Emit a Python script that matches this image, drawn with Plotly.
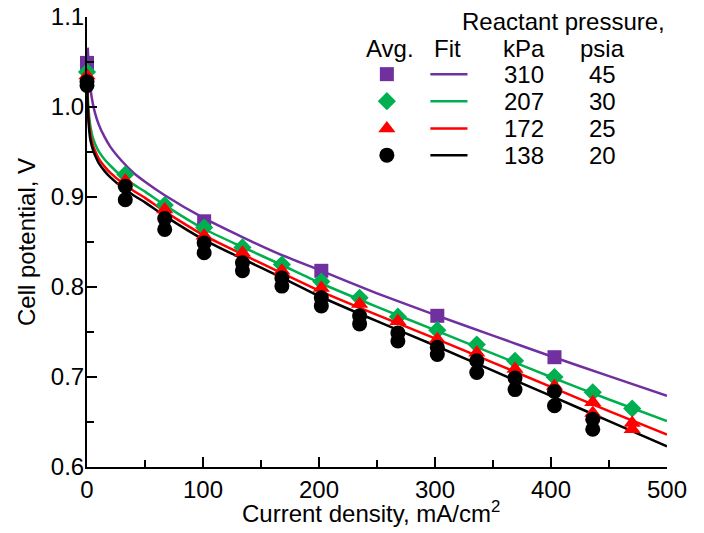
import plotly.graph_objects as go

# ---------------- data ----------------
# Averaged measurements (current density mA/cm2, cell potential V)
x_310 = [0, 101, 202, 302, 403]
y_310 = [1.049, 0.873, 0.818, 0.768, 0.722]

x_207 = [0, 33, 67, 101, 134, 168, 202, 235, 268, 302, 336, 369, 403, 436, 470]
y_207 = [1.039, 0.925, 0.891, 0.866, 0.844, 0.825, 0.806, 0.788, 0.767, 0.752, 0.736, 0.718, 0.700, 0.683, 0.665]

x_172 = [0, 33, 67, 101, 134, 168, 202, 235, 268, 302, 336, 369, 403, 436, 436, 470, 470]
y_172 = [1.035, 0.918, 0.886, 0.857, 0.838, 0.818, 0.799, 0.781, 0.762, 0.742, 0.727, 0.709, 0.690, 0.672, 0.660, 0.649, 0.642]

x_138 = [0, 0, 33, 33, 67, 67, 101, 101, 134, 134, 168, 168, 202, 202, 235, 235,
         268, 268, 302, 302, 336, 336, 369, 369, 403, 403, 436, 436]
y_138 = [1.028, 1.024, 0.912, 0.897, 0.876, 0.864, 0.849, 0.838, 0.827, 0.818, 0.810, 0.801,
         0.788, 0.779, 0.768, 0.759, 0.749, 0.740, 0.733, 0.725, 0.718, 0.705, 0.699, 0.686,
         0.684, 0.668, 0.653, 0.642]

# Fit curves
xf_310 = [0.7, 1, 2, 3, 5, 7, 10, 15, 20, 30, 40, 50, 67, 100, 133, 167, 200, 250, 300, 350, 400, 450, 500]
yf_310 = [1.066, 1.055, 1.034, 1.020, 1.004, 0.993, 0.981, 0.967, 0.956, 0.940, 0.927, 0.917, 0.902,
          0.877, 0.856, 0.836, 0.819, 0.793, 0.769, 0.746, 0.723, 0.701, 0.679]

xf = [0.2, 0.5, 1, 2, 3, 5, 7, 10, 15, 20, 30, 40, 50, 67, 100, 133, 167, 200, 250, 300, 350, 400, 450, 500]
yf_207 = [1.040, 1.018, 1.004, 0.988, 0.978, 0.966, 0.959, 0.951, 0.942, 0.935, 0.923, 0.914, 0.906, 0.891,
          0.865, 0.845, 0.825, 0.805, 0.778, 0.752, 0.726, 0.700, 0.675, 0.651]
yf_172 = [1.035, 1.010, 0.996, 0.979, 0.969, 0.958, 0.951, 0.943, 0.934, 0.927, 0.916, 0.907, 0.899, 0.884,
          0.858, 0.837, 0.816, 0.796, 0.769, 0.743, 0.716, 0.689, 0.662, 0.636]
yf_138 = [1.030, 1.004, 0.990, 0.973, 0.963, 0.953, 0.946, 0.938, 0.929, 0.922, 0.911, 0.902, 0.894, 0.879,
          0.853, 0.832, 0.811, 0.790, 0.762, 0.735, 0.707, 0.679, 0.651, 0.623]

y_ticks = [0.6, 0.7, 0.8, 0.9, 1.0, 1.1]
y_ticktext = ["0.6", "0.7", "0.8", "0.9", "1.0", "1.1"]
x_ticks = [0, 100, 200, 300, 400, 500]

kpa = ["310", "207", "172", "138"]
psia = ["45", "30", "25", "20"]
colors = ["#7030A0", "#00B050", "#FF0000", "#000000"]
symbols = ["square", "diamond", "triangle-up", "circle"]
msizes = [14, 14, 15, 15]

FONT = "Liberation Sans, Arial, sans-serif"

fig = go.Figure()

# fit lines
for xs, ys, c in [(xf_310, yf_310, colors[0]), (xf, yf_207, colors[1]),
                  (xf, yf_172, colors[2]), (xf, yf_138, colors[3])]:
    fig.add_trace(go.Scatter(x=xs, y=ys, mode="lines", line=dict(color=c, width=2.5, shape="spline", smoothing=0.6),
                             showlegend=False, cliponaxis=False, hoverinfo="skip"))

# markers
for xs, ys, i in [(x_310, y_310, 0), (x_207, y_207, 1), (x_172, y_172, 2), (x_138, y_138, 3)]:
    fig.add_trace(go.Scatter(x=xs, y=ys, mode="markers",
                             marker=dict(symbol=symbols[i], color=colors[i], size=msizes[i], line=dict(width=0)),
                             showlegend=False, cliponaxis=False))

# ---------- custom legend table (plot-area fractions) ----------
row_y = [0.873, 0.813, 0.752, 0.693]
leg_mx = 0.517
for i in range(4):
    fig.add_trace(go.Scatter(x=[leg_mx], y=[row_y[i]], xaxis="x2", yaxis="y2", mode="markers",
                             marker=dict(symbol=symbols[i], color=colors[i], size=msizes[i], line=dict(width=0)),
                             showlegend=False, cliponaxis=False, hoverinfo="skip"))
    fig.add_shape(type="line", xref="paper", yref="paper", x0=0.592, x1=0.656, y0=row_y[i], y1=row_y[i],
                  line=dict(color=colors[i], width=2.5))
    fig.add_annotation(x=0.754, y=row_y[i], xref="paper", yref="paper", text=kpa[i], showarrow=False,
                       xanchor="center", yanchor="middle", font=dict(size=24, color="black", family=FONT))
    fig.add_annotation(x=0.889, y=row_y[i], xref="paper", yref="paper", text=psia[i], showarrow=False,
                       xanchor="center", yanchor="middle", font=dict(size=24, color="black", family=FONT))

for txt, xx, yy in [("Reactant pressure,", 0.822, 0.991), ("Avg.", 0.523, 0.929), ("Fit", 0.621, 0.929),
                    ("kPa", 0.754, 0.929), ("psia", 0.889, 0.929)]:
    fig.add_annotation(x=xx, y=yy, xref="paper", yref="paper", text=txt, showarrow=False,
                       xanchor="center", yanchor="middle", font=dict(size=24, color="black", family=FONT))

# x-axis title as annotation (placed just under the tick labels)
fig.add_annotation(x=0.49, y=-0.1, xref="paper", yref="paper", text="Current density, mA/cm<sup>2</sup>",
                   showarrow=False, xanchor="center", yanchor="middle",
                   font=dict(size=24, color="black", family=FONT))

fig.update_layout(
    width=704, height=533,
    margin=dict(l=79, r=45, t=9, b=74, autoexpand=False),
    paper_bgcolor="white", plot_bgcolor="white",
    font=dict(family=FONT, size=24, color="black"),
    xaxis=dict(range=[0, 500], tickmode="array", tickvals=x_ticks, ticks="inside", ticklen=10, tickwidth=1.5,
               tickcolor="black", ticklabeloverflow="allow",
               showline=True, linecolor="black", linewidth=2, showgrid=False, zeroline=False, automargin=False,
               minor=dict(ticks="inside", ticklen=7, tickvals=[50, 150, 250, 350, 450], tickcolor="black",
                          tickwidth=1.5, showgrid=False),
               tickfont=dict(size=24)),
    yaxis=dict(range=[0.6, 1.1], tickmode="array", tickvals=y_ticks, ticktext=y_ticktext, ticks="inside",
               ticklen=10, tickwidth=1.5, ticklabelstandoff=-4, ticklabeloverflow="allow",
               tickcolor="black", showline=True, linecolor="black", linewidth=2, showgrid=False, zeroline=False,
               automargin=False,
               minor=dict(ticks="inside", ticklen=7, tickvals=[0.65, 0.75, 0.85, 0.95, 1.05], tickcolor="black",
                          tickwidth=1.5, showgrid=False),
               title=dict(text="Cell potential, V", standoff=8, font=dict(size=24)),
               tickfont=dict(size=24)),
    xaxis2=dict(range=[0, 1], overlaying="x", visible=False, fixedrange=True),
    yaxis2=dict(range=[0, 1], overlaying="y", visible=False, fixedrange=True),
    showlegend=False,
)

fig.write_html("out.html")
